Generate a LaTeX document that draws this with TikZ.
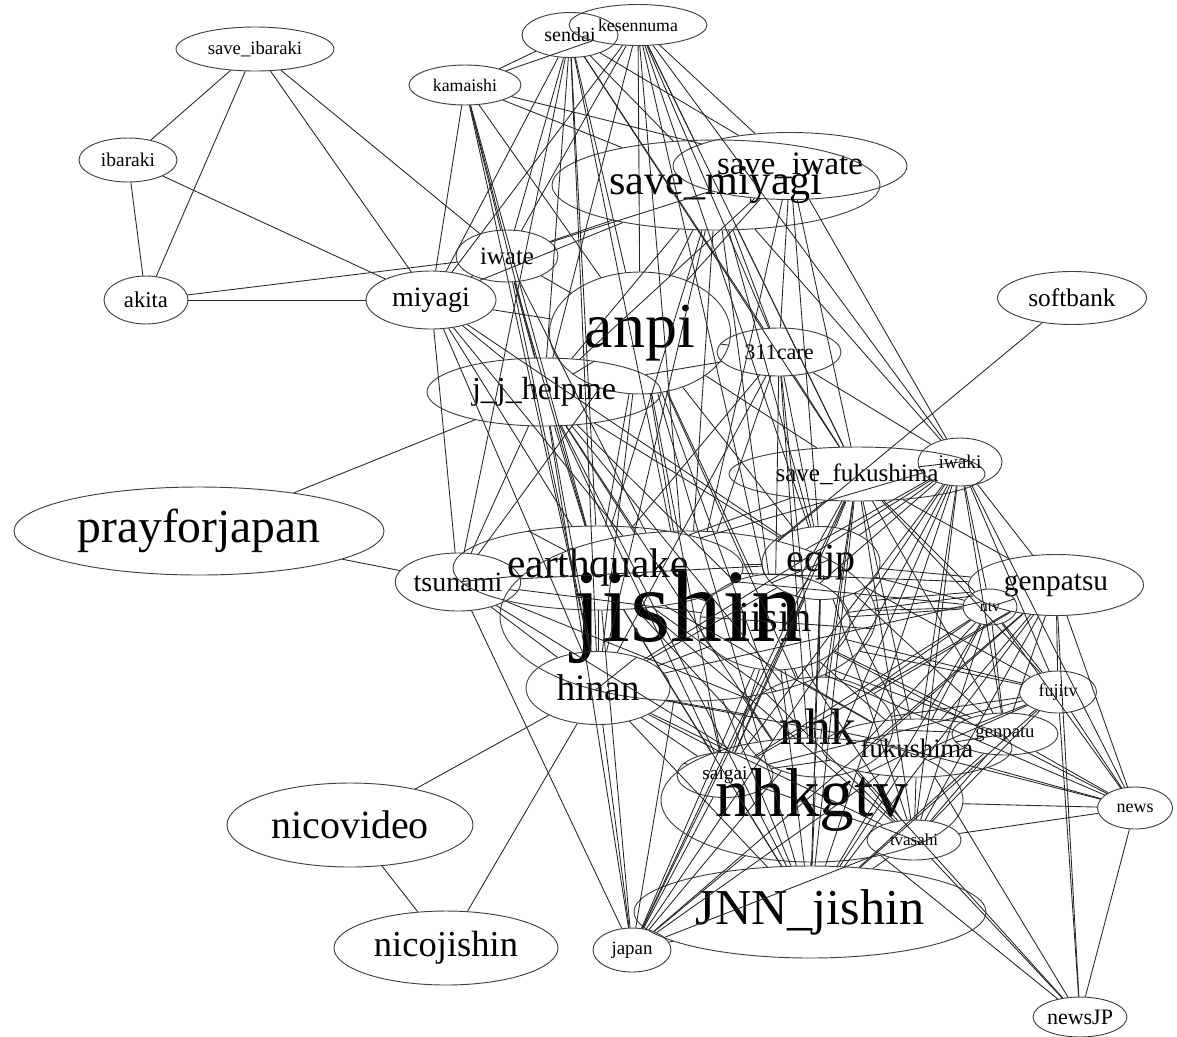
\documentclass[tikz,border=0pt]{standalone}
\usepackage{fontspec}
\setmainfont{Liberation Serif}
\usetikzlibrary{shapes}

\begin{document}
\begin{tikzpicture}[x=0.75pt,y=-0.75pt]
\tikzstyle{tag} = [draw=black!75,ellipse,inner sep=0pt,line width=0.7pt]
\tikzstyle{edge} = [black!85,line width=0.65pt]
\tikzset{sz/.style 2 args={minimum width=#1*0.75pt,minimum height=#2*0.75pt},
         fs/.style={font=\fontsize{#1}{#1}\selectfont}}
\useasboundingbox (0,0) rectangle (1177,1036);
% prefectures, top left
\node[tag,sz={158}{44},fs=14]   (sib) at (255,49)  {save\_ibaraki};
\node[tag,sz={98}{44},fs=14.6]  (iba) at (128,160) {ibaraki};
\node[tag,sz={84}{48},fs=17]    (aki) at (146,300) {akita};
\node[tag,sz={130}{58},fs=21]   (miy) at (431,300) {miyagi};
\node[tag,sz={102}{52},fs=18.7] (iwt) at (507,256) {iwate};
\node[tag,sz={112}{40},fs=13.3] (kam) at (465,85)  {kamaishi};
\node[tag,sz={96}{45},fs=15]    (sen) at (570,35)  {sendai};
\node[tag,sz={138}{41},fs=13.3] (kes) at (638,25)  {kesennuma};
\node[tag,sz={234}{67},fs=24.6] (siw) at (790,166) {save\_iwate};
\node[tag,sz={328}{90},fs=31.6] (smy) at (716,185) {save\_miyagi};
\node[tag,sz={149}{53},fs=19]   (sof) at (1072,298) {softbank};
\node[tag,sz={181}{122},fs=48]  (anp) at (640,333) {anpi};
\node[tag,sz={124}{48},fs=16.6] (c311) at (779,352) {311care};
\node[tag,sz={234}{68},fs=24]   (jjh) at (544,392) {j\_j\_helpme};
\node[tag,sz={256}{54},fs=18.8] (sfk) at (857,474) {save\_fukushima};
\node[tag,sz={84}{48},fs=14.5]  (iwk) at (960,462) {iwaki};
\node[tag,sz={370}{88},fs=35.7] (pfj) at (199,531) {prayforjapan};
% the dense middle
\node[tag,sz={122}{58},fs=21]   (tsu) at (458,582) {tsunami};
\node[tag,sz={290}{84},fs=31]   (eq)  at (598,568) {earthquake};
\node[tag,sz={376}{170},fs=78]  (jsh) at (688,616) {jishin};
\node[tag,sz={118}{73},fs=30]   (eqj) at (821,563) {eqjp};
\node[tag,sz={150}{96},fs=32]   (jsn) at (775,622) {jisin};
\node[tag,sz={175}{61},fs=22]   (gps) at (1056,585) {genpatsu};
\node[tag,sz={54}{36},fs=12]    (ntv) at (990,607) {ntv};
\node[tag,sz={77}{42},fs=13.5]  (fuj) at (1058,692) {fujitv};
\node[tag,sz={106}{42},fs=14]   (gpu) at (1005,734) {genpatu};
\node[tag,sz={144}{73},fs=28]   (hin) at (598,688) {hinan};
\node[tag,sz={150}{100},fs=38.5] (nhk) at (818,727) {nhk};
\node[tag,sz={190}{58},fs=20]   (fks) at (917,748) {fukushima};
\node[tag,sz={96}{45},fs=14.5]  (sai) at (725,775) {saigai};
\node[tag,sz={302}{124},fs=52]  (gtv) at (812,800) {nhkgtv};
\node[tag,sz={75}{42},fs=13.5]  (nws) at (1135,808) {news};
\node[tag,sz={94}{40},fs=12.7]  (tva) at (914,840) {tvasahi};
% bottom
\node[tag,sz={246}{84},fs=30]   (nvd) at (350,825) {nicovideo};
\node[tag,sz={352}{92},fs=37.7] (jnn) at (810,912) {JNN\_jishin};
\node[tag,sz={224}{74},fs=27.4] (njs) at (446,948) {nicojishin};
\node[tag,sz={78}{44},fs=14.2]  (jpn) at (632,950) {japan};
\node[tag,sz={94}{40},fs=16.5]  (njp) at (1080,1017) {newsJP};

% edges
\foreach \b in {iba,aki,miy,iwt} \draw[edge] (sib) -- (\b);
\foreach \b in {aki,miy} \draw[edge] (iba) -- (\b);
\foreach \b in {miy,iwt} \draw[edge] (aki) -- (\b);
\foreach \b in {sen,kes,miy,iwt,jjh,anp,smy,siw,hin,eq} \draw[edge] (kam) -- (\b);
\foreach \b in {iwt,miy,anp,jjh,smy,siw,jsh,hin,sfk,c311,eq,tsu} \draw[edge] (sen) -- (\b);
\foreach \b in {iwt,miy,anp,jjh,smy,siw,jsh,c311,sfk,iwk,eqj,jsn} \draw[edge] (kes) -- (\b);
\foreach \b in {miy,smy,siw,anp,jjh,jsh,hin,eq} \draw[edge] (iwt) -- (\b);
\foreach \b in {smy,anp,jjh,jsh,hin,eq,tsu,eqj} \draw[edge] (miy) -- (\b);
\foreach \b in {anp,jjh,c311,jsh,sfk,iwk,eqj,jsn,eq,hin} \draw[edge] (smy) -- (\b);
\foreach \b in {anp,c311,sfk,iwk,jsh,jjh,eqj} \draw[edge] (siw) -- (\b);
\foreach \b in {jjh,c311,jsh,eq,eqj,jsn,hin,sfk,nhk,gtv,jnn,sai,tsu} \draw[edge] (anp) -- (\b);
\foreach \b in {jjh,jsh,eq,eqj,jsn,sfk,hin,nhk,gtv,iwk} \draw[edge] (c311) -- (\b);
\foreach \b in {pfj,jsh,eq,tsu,hin,eqj,jsn,nhk,gtv,sai,jnn,jpn} \draw[edge] (jjh) -- (\b);
\draw[edge] (pfj) -- (tsu);
\draw[edge] (sof) -- (jsh);
\foreach \b in {eq,jsh,hin,eqj,jsn,nhk,gtv,jpn} \draw[edge] (tsu) -- (\b);
\foreach \b in {jsh,eqj,jsn,hin,sfk,iwk,gps,nhk,gtv,fks,sai,jnn,jpn,tva,ntv} \draw[edge] (eq) -- (\b);
\foreach \b in {eqj,jsn,hin,sfk,iwk,gps,ntv,fuj,nhk,fks,gpu,sai,gtv,tva,jnn,jpn,nws} \draw[edge] (jsh) -- (\b);
\foreach \b in {jsn,sfk,iwk,gps,ntv,fuj,gpu,nhk,fks,sai,gtv,tva,jnn,jpn,hin} \draw[edge] (eqj) -- (\b);
\foreach \b in {hin,sfk,iwk,gps,ntv,fuj,gpu,nhk,fks,sai,gtv,tva,jnn,jpn,nws} \draw[edge] (jsn) -- (\b);
\foreach \b in {nvd,njs,nhk,fks,sai,gtv,jnn,jpn,iwk,gps,tva} \draw[edge] (hin) -- (\b);
\foreach \b in {iwk,gps,ntv,fuj,gpu,nhk,fks,sai,gtv,tva,jnn,jpn} \draw[edge] (sfk) -- (\b);
\foreach \b in {gps,ntv,fuj,gpu,nhk,fks,sai,gtv,tva,jnn,jpn,nws} \draw[edge] (iwk) -- (\b);
\foreach \b in {ntv,fuj,gpu,nhk,fks,sai,gtv,tva,jnn,nws,njp,jpn} \draw[edge] (gps) -- (\b);
\foreach \b in {fuj,gpu,nhk,fks,sai,gtv,tva,jnn,nws} \draw[edge] (ntv) -- (\b);
\foreach \b in {gpu,nhk,fks,sai,gtv,tva,jnn,nws,njp} \draw[edge] (fuj) -- (\b);
\foreach \b in {nhk,fks,gtv,tva,jnn,nws} \draw[edge] (gpu) -- (\b);
\foreach \b in {fks,sai,gtv,tva,jnn,jpn,nws,njp} \draw[edge] (nhk) -- (\b);
\foreach \b in {sai,gtv,tva,jnn,jpn,nws,njp} \draw[edge] (fks) -- (\b);
\foreach \b in {gtv,tva,jnn,jpn} \draw[edge] (sai) -- (\b);
\foreach \b in {tva,jnn,jpn,nws,njp} \draw[edge] (gtv) -- (\b);
\foreach \b in {jnn,nws,njp,jpn} \draw[edge] (tva) -- (\b);
\draw[edge] (jnn) -- (jpn);
\draw[edge] (nws) -- (njp);
\draw[edge] (nvd) -- (njs);
\end{tikzpicture}
\end{document}
